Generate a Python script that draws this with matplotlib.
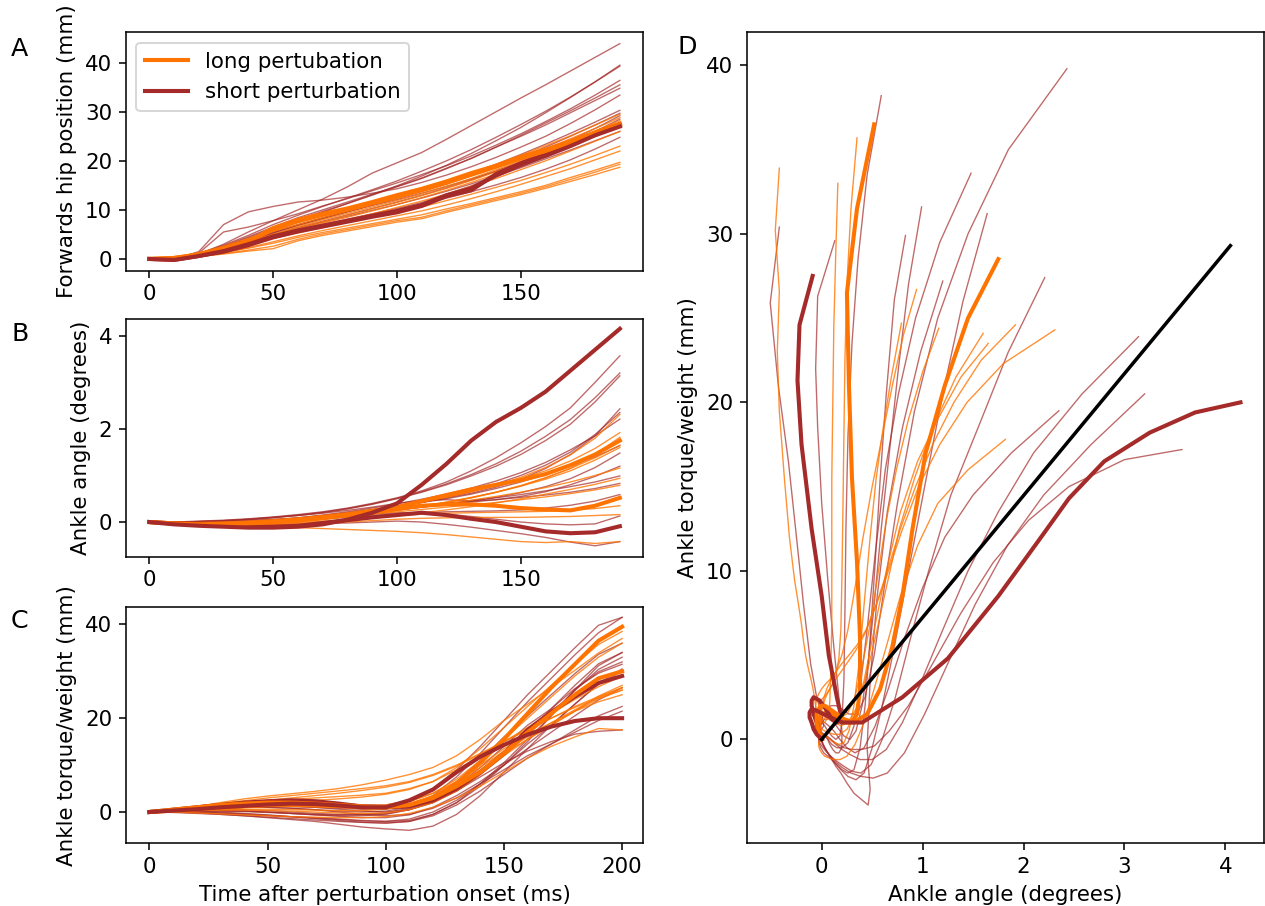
import matplotlib
matplotlib.use("Agg")
import matplotlib.pyplot as plt

plt.rcParams['font.size'] = 11

# sample times (ms)
time_kin = [0, 10, 20, 30, 40, 50, 60, 70, 80, 90, 100, 110, 120, 130, 140, 150, 160, 170, 180, 190]
time_trq = [0, 10, 20, 30, 40, 50, 60, 70, 80, 90, 100, 110, 120, 130, 140, 150, 160, 170, 180, 190, 200]

# ---- long perturbation, individual trials ----
long_hip = [
    [0, 0.2, 0.8, 1.6, 2.8, 4.2, 5.3, 6.4, 7.5, 8.5, 9.6, 10.6, 11.9, 13.2, 14.6, 16.0, 17.6, 19.3, 21.1, 23.0],
    [0, 0.1, 0.6, 1.3, 2.2, 3.2, 4.4, 5.4, 6.3, 7.2, 8.1, 9.0, 10.2, 11.3, 12.5, 13.7, 15.0, 16.6, 18.1, 19.7],
    [0, 0.1, 0.5, 1.1, 1.8, 2.6, 4.0, 5.1, 6.0, 6.9, 7.8, 8.5, 9.8, 11.0, 12.2, 13.4, 14.7, 16.2, 17.7, 19.3],
    [0, 0.1, 0.5, 1.0, 1.6, 2.1, 3.7, 4.8, 5.7, 6.6, 7.5, 8.2, 9.5, 10.7, 11.9, 13.1, 14.4, 15.8, 17.2, 18.7],
    [0, 0.3, 1.2, 2.4, 3.9, 5.6, 7.0, 8.4, 9.7, 11.0, 12.3, 13.8, 15.3, 16.9, 18.6, 20.4, 22.4, 24.5, 26.6, 28.8],
    [0, 0.2, 1.0, 2.2, 3.5, 5.0, 6.6, 8.0, 9.3, 10.6, 11.9, 13.3, 14.8, 16.4, 18.2, 20.0, 21.9, 24.0, 26.1, 28.2],
    [0, 0.2, 0.9, 1.9, 3.2, 4.6, 6.0, 7.3, 8.5, 9.8, 11.1, 12.5, 14.0, 15.6, 17.3, 19.1, 21.0, 23.0, 25.1, 27.2],
    [0, 0.1, 0.8, 1.7, 2.9, 4.2, 5.5, 6.8, 8.0, 9.2, 10.5, 11.8, 13.2, 14.8, 16.4, 18.2, 20.0, 22.0, 24.0, 26.0],
    [0, 0.3, 1.3, 2.6, 4.2, 5.9, 7.4, 8.8, 10.1, 11.4, 12.8, 14.3, 15.9, 17.5, 19.3, 21.1, 23.1, 25.1, 27.3, 29.5],
    [0, 0.2, 1.0, 2.0, 3.3, 4.8, 6.3, 7.6, 8.9, 10.2, 11.5, 12.9, 14.4, 16.0, 17.8, 19.6, 21.5, 23.5, 25.6, 27.8],
    [0, 0.1, 0.6, 1.3, 2.3, 3.5, 4.7, 5.8, 6.8, 7.8, 8.8, 9.8, 11.0, 12.3, 13.7, 15.2, 16.8, 18.4, 20.2, 22.0],
]
long_angle = [
    [0, -0.02, -0.04, -0.06, -0.08, -0.1, -0.12, -0.14, -0.16, -0.18, -0.2, -0.23, -0.27, -0.32, -0.37, -0.42, -0.44, -0.42, -0.46, -0.42],
    [0, -0.02, -0.03, -0.04, -0.04, -0.03, -0.01, 0.02, 0.06, 0.1, 0.14, 0.17, 0.19, 0.2, 0.21, 0.22, 0.23, 0.25, 0.29, 0.35],
    [0, -0.02, -0.04, -0.05, -0.06, -0.06, -0.05, -0.03, 0.0, 0.03, 0.06, 0.08, 0.09, 0.1, 0.1, 0.1, 0.11, 0.12, 0.14, 0.16],
    [0, -0.03, -0.05, -0.06, -0.06, -0.05, -0.03, 0.0, 0.04, 0.09, 0.14, 0.2, 0.26, 0.33, 0.41, 0.5, 0.6, 0.7, 0.81, 0.94],
    [0, -0.01, -0.02, -0.02, -0.01, 0.01, 0.04, 0.08, 0.12, 0.17, 0.22, 0.27, 0.32, 0.37, 0.42, 0.48, 0.54, 0.61, 0.69, 0.79],
    [0, -0.02, -0.03, -0.03, -0.02, 0.0, 0.03, 0.07, 0.12, 0.18, 0.25, 0.32, 0.39, 0.47, 0.55, 0.64, 0.74, 0.86, 1.0, 1.16],
    [0, -0.01, -0.02, -0.02, -0.01, 0.01, 0.04, 0.08, 0.13, 0.19, 0.26, 0.34, 0.43, 0.53, 0.64, 0.77, 0.92, 1.1, 1.33, 1.6],
    [0, -0.02, -0.03, -0.03, -0.02, 0.0, 0.03, 0.07, 0.12, 0.18, 0.25, 0.33, 0.42, 0.52, 0.64, 0.78, 0.95, 1.15, 1.38, 1.65],
    [0, -0.01, -0.01, 0.0, 0.02, 0.05, 0.09, 0.14, 0.2, 0.27, 0.35, 0.44, 0.54, 0.65, 0.78, 0.93, 1.1, 1.31, 1.58, 1.92],
    [0, -0.01, -0.02, -0.01, 0.01, 0.04, 0.08, 0.13, 0.19, 0.26, 0.34, 0.43, 0.53, 0.65, 0.79, 0.96, 1.17, 1.44, 1.8, 2.31],
    [0, -0.02, -0.03, -0.03, -0.02, 0.0, 0.03, 0.07, 0.12, 0.18, 0.25, 0.33, 0.42, 0.52, 0.64, 0.78, 0.95, 1.15, 1.45, 1.82],
]
long_torque = [
    [0, 0.5, 1.2, 2.0, 2.8, 3.4, 3.9, 4.4, 5.0, 5.8, 6.8, 8.0, 9.5, 12.0, 15.5, 19.5, 23.0, 26.6, 30.2, 33.9, 37.0],
    [0, 0.4, 0.8, 1.2, 1.6, 2.0, 2.3, 2.5, 2.8, 3.2, 3.8, 4.8, 6.5, 9.5, 13.5, 18.0, 22.5, 27.0, 31.5, 35.7, 38.5],
    [0, 0.3, 0.6, 0.9, 1.1, 1.2, 1.2, 1.1, 1.0, 1.0, 1.3, 2.2, 4.0, 7.0, 11.0, 15.5, 20.0, 24.5, 29.0, 33.0, 36.0],
    [0, 0.5, 1.0, 1.5, 2.0, 2.4, 2.7, 3.0, 3.3, 3.6, 4.0, 5.0, 6.5, 9.0, 12.0, 15.0, 18.0, 21.0, 24.0, 26.7, 29.0],
    [0, 0.2, 0.3, 0.4, 0.4, 0.3, 0.2, 0.0, -0.2, -0.3, -0.2, 0.5, 2.0, 4.5, 8.0, 12.0, 15.5, 18.5, 21.5, 24.7, 27.0],
    [0, 0.3, 0.6, 0.9, 1.2, 1.4, 1.5, 1.5, 1.4, 1.3, 1.5, 2.3, 4.0, 6.5, 9.5, 13.0, 16.0, 19.0, 21.8, 24.4, 26.5],
    [0, 0.3, 0.5, 0.8, 1.0, 1.2, 1.3, 1.2, 1.0, 0.8, 1.0, 1.8, 3.5, 6.0, 9.0, 12.5, 15.5, 18.5, 21.5, 24.1, 26.0],
    [0, 0.2, 0.4, 0.5, 0.6, 0.6, 0.5, 0.4, 0.3, 0.3, 0.6, 1.5, 3.5, 6.5, 10.0, 13.5, 16.5, 19.0, 21.5, 23.5, 25.0],
    [0, 0.6, 1.2, 1.8, 2.4, 3.0, 3.5, 4.0, 4.5, 5.0, 5.6, 6.5, 8.0, 10.0, 12.5, 15.0, 17.5, 20.0, 22.5, 24.6, 26.5],
    [0, 0.5, 1.0, 1.5, 2.0, 2.5, 3.0, 3.5, 4.0, 4.6, 5.3, 6.3, 7.8, 9.8, 12.3, 15.0, 17.5, 20.0, 22.3, 24.3, 26.0],
    [0, 0.0, -0.2, -0.4, -0.6, -0.8, -1.0, -1.1, -1.2, -1.2, -1.0, -0.3, 1.0, 3.0, 5.5, 8.5, 11.5, 14.0, 16.0, 17.8, 17.5],
]

# ---- short perturbation, individual trials ----
short_hip = [
    [0, -0.1, 0.7, 1.9, 3.4, 5.0, 6.4, 7.7, 9.0, 10.3, 11.6, 13.0, 14.5, 16.1, 17.9, 19.8, 21.9, 24.2, 26.6, 29.2],
    [0, 0.0, 0.9, 2.3, 4.0, 5.9, 7.7, 9.5, 11.3, 13.1, 14.9, 16.9, 19.1, 21.5, 24.1, 26.8, 29.8, 32.9, 36.1, 39.5],
    [0, -0.1, 1.5, 7.0, 9.6, 10.7, 11.6, 12.0, 12.6, 13.4, 14.3, 15.6, 17.1, 18.8, 20.7, 22.8, 25.0, 27.6, 30.4, 33.4],
    [0, 0.0, 1.0, 2.6, 4.5, 6.5, 8.4, 10.0, 11.6, 13.2, 14.8, 16.5, 18.5, 20.5, 22.8, 25.0, 27.3, 29.8, 32.3, 34.8],
    [0, 0.0, 1.2, 5.5, 6.5, 7.8, 9.2, 10.8, 12.3, 13.9, 15.5, 17.2, 19.0, 21.0, 23.2, 25.5, 28.0, 30.6, 33.4, 36.4],
    [0, 0.0, 1.0, 3.0, 5.5, 7.8, 10.0, 12.2, 14.7, 17.5, 19.6, 21.7, 24.4, 27.2, 30.0, 32.8, 35.5, 38.3, 41.1, 43.9],
    [0, -0.1, 0.8, 2.0, 3.6, 5.3, 6.8, 8.2, 9.6, 11.0, 12.4, 13.8, 15.4, 17.0, 18.8, 20.7, 22.8, 25.0, 27.3, 29.7],
    [0, 0.0, 1.1, 2.8, 4.8, 7.0, 8.9, 10.7, 12.4, 14.1, 15.9, 17.9, 20.0, 22.3, 24.8, 27.4, 30.1, 33.0, 36.1, 39.3],
    [0, -0.2, 0.5, 1.5, 2.8, 4.2, 5.5, 6.7, 7.8, 8.9, 10.0, 11.2, 12.4, 13.7, 15.1, 16.6, 18.3, 20.2, 22.4, 24.8],
    [0, -0.1, 0.7, 1.9, 3.5, 5.3, 6.9, 8.3, 9.6, 10.9, 12.1, 13.4, 14.8, 16.3, 17.9, 19.7, 21.6, 23.7, 26.0, 28.5],
    [0, 0.0, 1.0, 2.5, 4.3, 6.2, 8.0, 9.7, 11.3, 13.0, 14.7, 16.4, 18.4, 20.5, 22.8, 25.2, 27.7, 30.2, 32.8, 35.5],
    [0, -0.1, 0.8, 2.1, 3.7, 5.5, 7.0, 8.4, 9.8, 11.2, 12.6, 14.1, 15.7, 17.4, 19.3, 21.3, 23.4, 25.6, 27.9, 30.3],
    [0, -0.2, 0.6, 1.6, 3.0, 4.6, 5.9, 7.0, 8.1, 9.2, 10.3, 11.5, 13.2, 14.9, 16.8, 18.8, 20.9, 22.9, 25.0, 27.0],
    [0, -0.1, 0.7, 1.8, 3.2, 4.8, 6.2, 7.5, 8.7, 9.9, 11.1, 12.4, 13.8, 15.3, 16.9, 18.6, 20.4, 22.2, 24.1, 26.0],
]
short_angle = [
    [0, -0.02, -0.04, -0.05, -0.06, -0.05, -0.04, -0.03, -0.02, 0.0, 0.02, 0.0, -0.05, -0.11, -0.18, -0.25, -0.33, -0.43, -0.51, -0.42],
    [0, -0.02, -0.03, -0.03, -0.02, 0.0, 0.03, 0.06, 0.1, 0.14, 0.18, 0.2, 0.22, 0.23, 0.24, 0.26, 0.3, 0.36, 0.45, 0.59],
    [0, 0.0, 0.01, 0.02, 0.04, 0.06, 0.08, 0.11, 0.14, 0.17, 0.2, 0.2, 0.17, 0.12, 0.06, 0.0, -0.04, -0.06, -0.04, 0.13],
    [0, -0.02, -0.03, -0.03, -0.01, 0.02, 0.06, 0.1, 0.15, 0.2, 0.26, 0.32, 0.38, 0.43, 0.48, 0.53, 0.58, 0.64, 0.72, 0.83],
    [0, -0.01, -0.02, -0.02, 0.0, 0.03, 0.07, 0.12, 0.17, 0.22, 0.28, 0.34, 0.4, 0.46, 0.52, 0.59, 0.67, 0.76, 0.86, 0.99],
    [0, -0.02, -0.03, -0.03, -0.01, 0.02, 0.06, 0.1, 0.15, 0.2, 0.26, 0.32, 0.38, 0.45, 0.53, 0.63, 0.76, 0.93, 1.17, 1.48],
    [0, -0.01, -0.02, -0.01, 0.01, 0.04, 0.08, 0.13, 0.19, 0.26, 0.34, 0.42, 0.5, 0.6, 0.72, 0.86, 1.02, 1.2, 1.4, 1.64],
    [0, -0.01, -0.01, 0.0, 0.02, 0.05, 0.09, 0.14, 0.2, 0.27, 0.35, 0.43, 0.52, 0.62, 0.75, 0.92, 1.15, 1.45, 1.85, 2.43],
    [0, 0.0, 0.01, 0.03, 0.06, 0.1, 0.14, 0.19, 0.25, 0.32, 0.4, 0.46, 0.48, 0.45, 0.48, 0.55, 0.65, 0.8, 0.98, 1.2],
    [0, -0.02, -0.03, -0.02, 0.0, 0.04, 0.09, 0.15, 0.22, 0.3, 0.39, 0.49, 0.6, 0.73, 0.88, 1.06, 1.28, 1.55, 1.85, 2.21],
    [0, -0.01, 0.0, 0.02, 0.05, 0.09, 0.14, 0.2, 0.28, 0.38, 0.5, 0.64, 0.8, 0.99, 1.2, 1.45, 1.75, 2.1, 2.58, 3.14],
    [0, 0.0, 0.01, 0.03, 0.06, 0.1, 0.15, 0.21, 0.29, 0.39, 0.51, 0.65, 0.82, 1.02, 1.25, 1.52, 1.84, 2.2, 2.67, 3.2],
    [0, 0.0, 0.02, 0.04, 0.07, 0.11, 0.16, 0.22, 0.3, 0.4, 0.52, 0.67, 0.86, 1.1, 1.38, 1.7, 2.05, 2.45, 3.0, 3.57],
    [0, -0.02, -0.03, -0.02, 0.0, 0.03, 0.07, 0.12, 0.18, 0.25, 0.33, 0.42, 0.53, 0.66, 0.82, 1.0, 1.22, 1.5, 1.88, 2.35],
]
short_torque = [
    [0, 0.2, 0.5, 0.8, 1.0, 1.2, 1.2, 1.0, 0.8, 0.6, 0.8, 1.5, 2.5, 4.5, 8.0, 12.0, 16.5, 21.0, 25.9, 30.4, 33.0],
    [0, 0.3, 0.6, 0.8, 1.0, 1.0, 0.8, 0.5, 0.2, 0.0, 0.2, 1.0, 3.5, 7.5, 12.5, 18.0, 23.5, 28.5, 33.5, 38.2, 41.5],
    [0, 0.2, 0.3, 0.3, 0.2, 0.0, -0.3, -0.6, -0.8, -0.8, -0.5, 0.5, 2.5, 5.5, 9.5, 14.0, 18.5, 22.0, 26.3, 29.6, 31.5],
    [0, 0.1, 0.0, -0.2, -0.5, -0.8, -1.0, -1.2, -1.5, -1.8, -2.0, -1.8, -0.5, 2.0, 6.0, 10.5, 15.5, 20.5, 26.1, 29.9, 32.0],
    [0, 0.3, 0.5, 0.8, 1.0, 1.2, 1.2, 1.0, 0.6, 0.2, 0.0, 0.5, 2.0, 4.5, 8.0, 12.5, 17.0, 22.0, 27.0, 31.6, 34.0],
    [0, 0.2, 0.4, 0.5, 0.5, 0.3, 0.0, -0.3, -0.5, -0.5, -0.2, 0.8, 3.0, 6.5, 11.0, 16.0, 20.5, 25.0, 29.5, 33.6, 36.0],
    [0, 0.2, 0.2, 0.0, -0.3, -0.6, -1.0, -1.4, -1.8, -2.2, -2.4, -2.0, -0.5, 2.0, 5.5, 10.0, 15.0, 20.5, 26.0, 31.2, 34.0],
    [0, 0.4, 0.8, 1.2, 1.5, 1.8, 2.0, 2.0, 1.8, 1.5, 1.5, 2.5, 5.0, 9.0, 14.0, 19.5, 25.0, 30.0, 35.0, 39.8, 41.5],
    [0, 0.0, -0.2, -0.5, -0.8, -1.2, -1.6, -2.0, -2.6, -3.2, -3.6, -3.9, -3.0, -0.5, 3.5, 8.5, 13.5, 18.5, 23.0, 27.2, 30.0],
    [0, 0.1, 0.0, -0.2, -0.4, -0.7, -1.0, -1.3, -1.6, -1.9, -2.0, -1.5, 0.0, 2.5, 6.0, 10.0, 14.5, 18.5, 23.0, 27.4, 30.5],
    [0, 0.2, 0.3, 0.3, 0.2, 0.0, -0.3, -0.6, -0.9, -1.2, -1.2, -0.6, 1.0, 3.5, 6.5, 10.0, 13.5, 17.0, 20.5, 23.9, 26.5],
    [0, -0.1, -0.3, -0.5, -0.8, -1.1, -1.4, -1.7, -2.0, -2.2, -2.3, -2.0, -0.8, 1.5, 4.5, 8.0, 11.5, 14.5, 17.5, 20.5, 22.5],
    [0, 0.1, 0.2, 0.2, 0.1, -0.1, -0.3, -0.5, -0.6, -0.6, -0.4, 0.5, 2.0, 4.5, 7.5, 10.5, 13.0, 15.0, 16.6, 17.2, 17.5],
    [0, 0.3, 0.5, 0.8, 1.0, 1.0, 0.8, 0.5, 0.0, -0.5, -0.8, -0.5, 0.8, 3.0, 6.0, 9.0, 12.0, 14.5, 17.0, 19.5, 21.5],
]

# ---- highlighted (bold) trials ----
long_bold_hip = [
    [0, 0.2, 0.9, 2.0, 3.5, 6.3, 8.0, 9.2, 10.3, 11.6, 13.0, 14.3, 15.8, 17.5, 19.0, 20.8, 22.3, 24.0, 25.8, 27.6],
    [0, 0.2, 0.9, 2.1, 3.6, 6.0, 7.7, 9.0, 10.1, 11.4, 12.7, 14.0, 15.5, 17.2, 18.8, 20.5, 22.0, 23.7, 25.5, 27.3],
]
long_bold_angle = [
    [0, -0.03, -0.05, -0.05, -0.03, 0.0, 0.05, 0.1, 0.15, 0.22, 0.3, 0.35, 0.38, 0.38, 0.35, 0.3, 0.27, 0.25, 0.35, 0.52],
    [0, -0.03, -0.05, -0.05, -0.03, 0.0, 0.03, 0.08, 0.15, 0.22, 0.32, 0.45, 0.58, 0.7, 0.8, 0.9, 1.03, 1.22, 1.45, 1.75],
]
long_bold_torque = [
    [0, 0.3, 0.6, 0.9, 1.2, 1.5, 1.6, 1.5, 1.3, 1.0, 1.0, 1.5, 3.0, 6.0, 10.5, 15.5, 21.0, 26.5, 31.5, 36.5, 39.5],
    [0, 0.5, 1.0, 1.5, 1.8, 2.0, 2.0, 1.8, 1.5, 1.2, 1.0, 1.5, 3.0, 5.5, 8.5, 12.5, 17.0, 21.0, 25.0, 28.5, 30.0],
]
short_bold_hip = [
    [0, -0.2, 0.6, 1.5, 2.8, 4.4, 5.6, 6.6, 7.6, 8.6, 9.5, 10.8, 12.8, 14.0, 17.3, 19.5, 21.3, 23.3, 25.4, 27.3],
    [0, -0.2, 0.6, 1.6, 3.0, 4.6, 5.8, 6.8, 7.8, 8.8, 9.8, 11.0, 13.0, 14.4, 17.0, 19.2, 21.0, 23.0, 25.2, 27.0],
]
short_bold_angle = [
    [0, -0.03, -0.05, -0.08, -0.1, -0.1, -0.08, -0.02, 0.04, 0.1, 0.15, 0.2, 0.15, 0.07, 0.0, -0.1, -0.2, -0.24, -0.22, -0.09],
    [0, -0.05, -0.08, -0.1, -0.12, -0.12, -0.1, -0.05, 0.05, 0.2, 0.4, 0.8, 1.25, 1.75, 2.15, 2.45, 2.8, 3.25, 3.7, 4.15],
]
short_bold_torque = [
    [0, 0.5, 1.0, 1.5, 2.0, 2.3, 2.5, 2.3, 1.8, 1.2, 1.0, 1.2, 2.5, 5.0, 8.5, 12.5, 17.5, 21.3, 24.6, 27.5, 29.0],
    [0, 0.3, 0.6, 1.0, 1.3, 1.6, 1.8, 1.7, 1.4, 1.0, 1.0, 2.5, 4.8, 8.5, 11.8, 14.3, 16.5, 18.2, 19.4, 20.0, 20.0],
]

# linear fit shown in panel D
fit_angle = [0, 4.05]
fit_torque = [0, 29.3]

LONG_C = '#ff7400'
SHORT_C = '#a52a2a'
THIN = 0.7
BOLD = 2.1

fig = plt.figure(figsize=(1265 / 140, 906 / 140), dpi=140)
axA = fig.add_axes([0.0994, 0.7012, 0.4092, 0.2631])
axB = fig.add_axes([0.0994, 0.3855, 0.4092, 0.2624])
axC = fig.add_axes([0.0994, 0.0692, 0.4092, 0.2608])
axD = fig.add_axes([0.5903, 0.0692, 0.4089, 0.8951])

# thin trials
for i in range(len(short_hip)):
    axA.plot(time_kin, short_hip[i], color=SHORT_C, lw=THIN, alpha=0.7)
    axB.plot(time_kin, short_angle[i], color=SHORT_C, lw=THIN, alpha=0.7)
    axC.plot(time_trq, short_torque[i], color=SHORT_C, lw=THIN, alpha=0.7)
    axD.plot(short_angle[i], short_torque[i][:len(time_kin)], color=SHORT_C, lw=THIN, alpha=0.7)
for i in range(len(long_hip)):
    axA.plot(time_kin, long_hip[i], color=LONG_C, lw=THIN, alpha=0.8)
    axB.plot(time_kin, long_angle[i], color=LONG_C, lw=THIN, alpha=0.8)
    axC.plot(time_trq, long_torque[i], color=LONG_C, lw=THIN, alpha=0.8)
    axD.plot(long_angle[i], long_torque[i][:len(time_kin)], color=LONG_C, lw=THIN, alpha=0.8)

# bold trials
for i in range(2):
    lab_l = 'long pertubation' if i == 0 else None
    lab_s = 'short perturbation' if i == 0 else None
    axA.plot(time_kin, long_bold_hip[i], color=LONG_C, lw=BOLD, label=lab_l)
    axA.plot(time_kin, short_bold_hip[i], color=SHORT_C, lw=BOLD, label=lab_s)
    axB.plot(time_kin, long_bold_angle[i], color=LONG_C, lw=BOLD)
    axB.plot(time_kin, short_bold_angle[i], color=SHORT_C, lw=BOLD)
    axC.plot(time_trq, long_bold_torque[i], color=LONG_C, lw=BOLD)
    axC.plot(time_trq, short_bold_torque[i], color=SHORT_C, lw=BOLD)
    axD.plot(long_bold_angle[i], long_bold_torque[i][:len(time_kin)], color=LONG_C, lw=BOLD)
    axD.plot(short_bold_angle[i], short_bold_torque[i][:len(time_kin)], color=SHORT_C, lw=BOLD)

axD.plot(fit_angle, fit_torque, color='black', lw=1.8)

axA.legend(loc='upper left')

axA.set_xlim(-9.5, 199.5)
axA.set_ylim(-2.4, 46.2)
axB.set_xlim(-9.5, 199.5)
axB.set_ylim(-0.745, 4.36)
axC.set_xlim(-10, 209)
axC.set_ylim(-6.67, 43.7)
axD.set_xlim(-0.743, 4.383)
axD.set_ylim(-6.17, 41.96)

axA.set_yticks([0, 10, 20, 30, 40])
axA.set_xticks([0, 50, 100, 150])
axB.set_yticks([0, 2, 4])
axB.set_xticks([0, 50, 100, 150])
axC.set_yticks([0, 20, 40])
axC.set_xticks([0, 50, 100, 150, 200])
axD.set_xticks([0, 1, 2, 3, 4])
axD.set_yticks([0, 10, 20, 30, 40])

axA.set_ylabel('Forwards hip position (mm)')
axB.set_ylabel('Ankle angle (degrees)')
axC.set_ylabel('Ankle torque/weight (mm)')
axC.set_xlabel('Time after perturbation onset (ms)')
axD.set_ylabel('Ankle torque/weight (mm)')
axD.set_xlabel('Ankle angle (degrees)')

fig.text(11 / 1265, 1 - 49 / 906, 'A', fontsize=13, va='center', ha='left')
fig.text(11 / 1265, 1 - 334 / 906, 'B', fontsize=13, va='center', ha='left')
fig.text(11 / 1265, 1 - 621 / 906, 'C', fontsize=13, va='center', ha='left')
fig.text(678 / 1265, 1 - 47 / 906, 'D', fontsize=13, va='center', ha='left')

fig.savefig('out.png', dpi=140)
